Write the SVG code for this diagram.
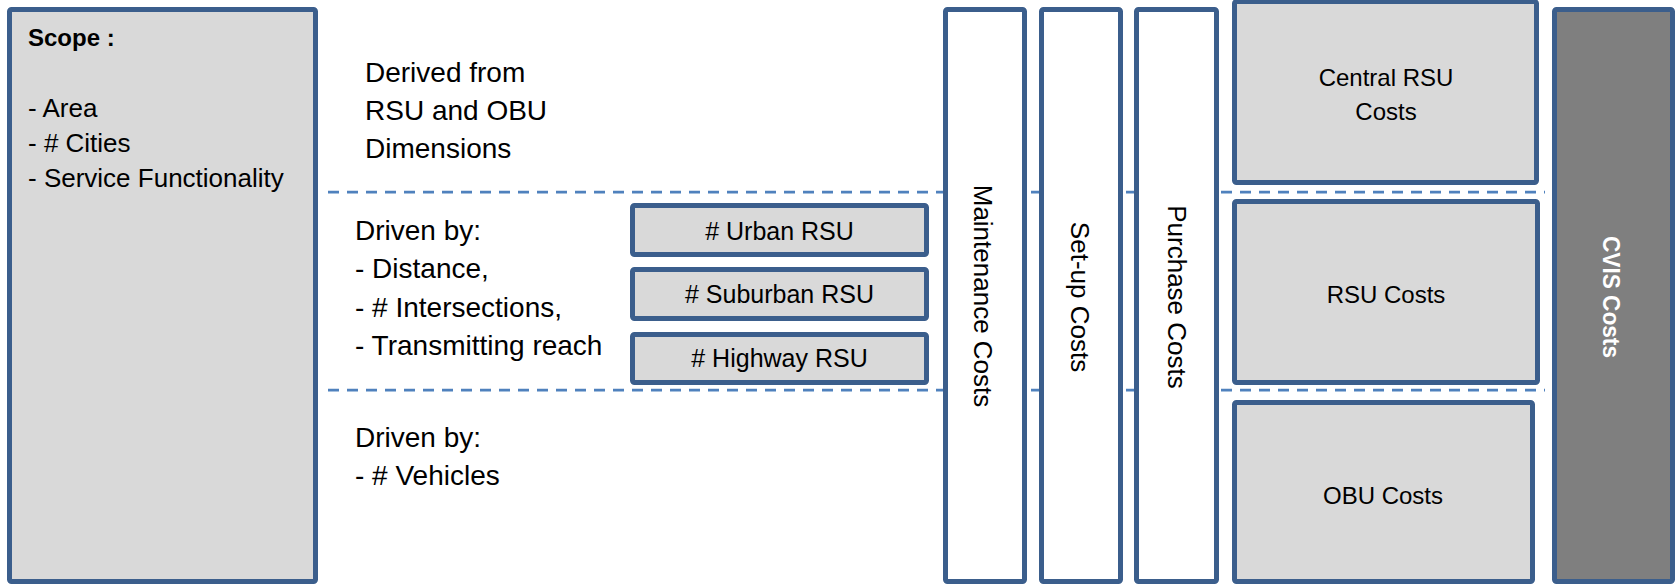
<svg xmlns="http://www.w3.org/2000/svg" width="1676" height="584" viewBox="0 0 1676 584">
<style>
  .box{stroke:#3b5e8c;stroke-width:5;stroke-linejoin:round}
  .gray{fill:#d9d9d9}
  .white{fill:#ffffff}
  .dark{fill:#7f7f7f}
  .sep{stroke:#4f81bd;stroke-width:2.75;stroke-dasharray:11 8;fill:none}
  text{font-family:"Liberation Sans",Arial,sans-serif;fill:#000}
  .t26{font-size:26px}
  .t28{font-size:28px}
  .t25{font-size:25px}
  .t24{font-size:24px}
  .mid{text-anchor:middle}
</style>
<rect width="1676" height="584" fill="#ffffff"/>
<g id="separators">
  <line class="sep" x1="328" y1="192" x2="1545" y2="192"/>
  <line class="sep" x1="328" y1="390" x2="1545" y2="390"/>
</g>
<g id="scope">
  <rect class="box gray" x="9.5" y="9.5" width="306" height="572" rx="2"/>
  <text x="28" y="46" font-size="24" font-weight="bold">Scope :</text>
  <text class="t26" x="28" y="117">- Area</text>
  <text class="t26" x="28" y="152">- # Cities</text>
  <text class="t26" x="28" y="187">- Service Functionality</text>
</g>
<g id="derived">
  <text class="t28" x="365" y="82">Derived from</text>
  <text class="t28" x="365" y="120">RSU and OBU</text>
  <text class="t28" x="365" y="158">Dimensions</text>
</g>
<g id="driven-rsu">
  <text class="t28" x="355" y="240">Driven by:</text>
  <text class="t28" x="355" y="278">- Distance,</text>
  <text class="t28" x="355" y="317">- # Intersections,</text>
  <text class="t28" x="355" y="355">- Transmitting reach</text>
</g>
<g id="driven-obu">
  <text class="t28" x="355" y="447">Driven by:</text>
  <text class="t28" x="355" y="485">- # Vehicles</text>
</g>
<g id="urban-rsu">
  <rect class="box gray" x="632.5" y="205.5" width="294" height="49" rx="2"/>
  <text class="t25 mid" x="779.5" y="240"># Urban RSU</text>
</g>
<g id="suburban-rsu">
  <rect class="box gray" x="632.5" y="269.5" width="294" height="49" rx="2"/>
  <text class="t25 mid" x="779.5" y="303"># Suburban RSU</text>
</g>
<g id="highway-rsu">
  <rect class="box gray" x="632.5" y="334.5" width="294" height="48" rx="2"/>
  <text class="t25 mid" x="779.5" y="367"># Highway RSU</text>
</g>
<g id="maintenance-costs">
  <rect class="box white" x="945.5" y="9.5" width="79" height="572" rx="2"/>
  <text class="t26 mid" transform="translate(974,296) rotate(90)">Maintenance Costs</text>
</g>
<g id="setup-costs">
  <rect class="box white" x="1041.5" y="9.5" width="79" height="572" rx="2"/>
  <text class="t26 mid" transform="translate(1071,297) rotate(90)">Set-up Costs</text>
</g>
<g id="purchase-costs">
  <rect class="box white" x="1136.5" y="9.5" width="80" height="572" rx="2"/>
  <text class="t26 mid" transform="translate(1168,297) rotate(90)">Purchase Costs</text>
</g>
<g id="central-rsu-costs">
  <rect class="box gray" x="1234.5" y="1.5" width="302" height="181" rx="2"/>
  <text class="t24 mid" x="1386" y="86">Central RSU</text>
  <text class="t24 mid" x="1386" y="120">Costs</text>
</g>
<g id="rsu-costs">
  <rect class="box gray" x="1234.5" y="201.5" width="303" height="181" rx="2"/>
  <text class="t24 mid" x="1386" y="303">RSU Costs</text>
</g>
<g id="obu-costs">
  <rect class="box gray" x="1234.5" y="402.5" width="298" height="179" rx="2"/>
  <text class="t24 mid" x="1383" y="504">OBU Costs</text>
</g>
<g id="cvis-costs">
  <rect class="box dark" x="1554.5" y="9.5" width="118" height="572" rx="2"/>
  <text class="mid" font-size="24" font-weight="bold" fill="#ffffff" style="fill:#ffffff" textLength="122" lengthAdjust="spacingAndGlyphs" transform="translate(1603,297) rotate(90)">CVIS Costs</text>
</g>
</svg>
